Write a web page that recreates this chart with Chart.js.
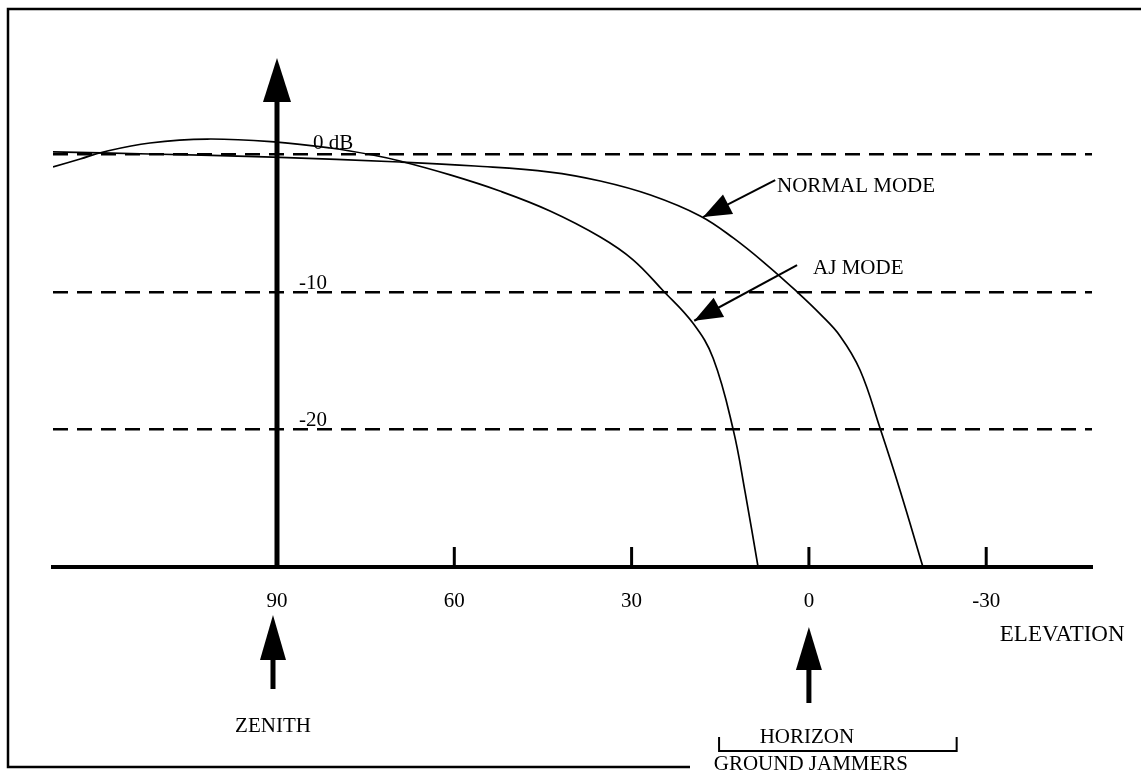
<!DOCTYPE html>
<html>
<head>
<meta charset="utf-8">
<script src="https://cdn.jsdelivr.net/npm/chart.js@4.4.0/dist/chart.umd.min.js"></script>
<style>
  html, body { margin: 0; padding: 0; background: #fff; }
  #wrap { width: 1141px; height: 777px; }
</style>
</head>
<body>
<div id="wrap"><canvas id="grafico" width="1141" height="777"></canvas></div>
<script>
// elevation ticks (degrees) and gain reference levels (dB)
const elevTicks = [90, 60, 30, 0, -30];
const dbLevels = [0, -10, -20];
const dbLabels = ['0 dB', '-10', '-20'];

// normal mode pattern
const normalElev = [127.9, 111.5, 90.7, 69.2, 56.5, 43.8, 35.3, 26.8, 18.4, 12.8, 7.1, 2.0, -1.88, -5.26, -8.65, -12.03, -15.4, -19.3];
const normalGain = [0.17, 0.02, -0.2, -0.56, -0.85, -1.29, -1.94, -2.96, -4.48, -6.08, -8.05, -10, -11.6, -13.2, -15.68, -19.9, -24.4, -30];

// AJ mode pattern
const ajElev = [127.9, 123.3, 119.4, 111.5, 101.8, 90, 81.0, 73.8, 69.2, 60.7, 52.3, 43.8, 35.3, 29.8, 24.7, 19.6, 16.2, 12.8, 10.8, 8.6];
const ajGain = [-0.92, -0.34, 0.17, 0.82, 1.11, 0.89, 0.46, -0.05, -0.49, -1.5, -2.67, -4.12, -6.01, -7.65, -9.9, -12.29, -14.83, -20.03, -24.54, -30];

const SERIF = '"Liberation Serif", "Times New Roman", serif';
const FONT = '21px ' + SERIF;

function pts(xs, ys) {
  return xs.map((x, i) => ({ x: x, y: ys[i] }));
}

function arrowHead(ctx, x1, y1, x2, y2, len, half) {
  // filled triangle pointing from (x1,y1) toward (x2,y2)
  const a = Math.atan2(y2 - y1, x2 - x1);
  const bx = x2 - len * Math.cos(a), by = y2 - len * Math.sin(a);
  ctx.beginPath();
  ctx.moveTo(x2, y2);
  ctx.lineTo(bx + half * Math.sin(a), by - half * Math.cos(a));
  ctx.lineTo(bx - half * Math.sin(a), by + half * Math.cos(a));
  ctx.closePath();
  ctx.fill();
}

function pointer(ctx, x1, y1, x2, y2) {
  ctx.lineWidth = 2;
  ctx.beginPath();
  ctx.moveTo(x1, y1);
  ctx.lineTo(x2, y2);
  ctx.stroke();
  arrowHead(ctx, x1, y1, x2, y2, 28, 11);
}

function upArrow(ctx, x, tip, headEnd, tail, halfW, shaftW) {
  ctx.fillRect(x - shaftW / 2, headEnd - 2, shaftW, tail - headEnd + 2);
  ctx.beginPath();
  ctx.moveTo(x, tip);
  ctx.lineTo(x + halfW, headEnd);
  ctx.lineTo(x - halfW, headEnd);
  ctx.closePath();
  ctx.fill();
}

const extras = {
  id: 'extras',
  afterDraw(chart) {
    const ctx = chart.ctx;
    const xs = chart.scales.x, ys = chart.scales.y;
    const area = chart.chartArea;
    const X = v => xs.getPixelForValue(v);
    const Y = v => ys.getPixelForValue(v);
    ctx.save();
    ctx.strokeStyle = '#000';
    ctx.fillStyle = '#000';

    // frame (open on the right)
    ctx.lineWidth = 2.5;
    ctx.beginPath();
    ctx.moveTo(1141, 9);
    ctx.lineTo(8, 9);
    ctx.lineTo(8, 767);
    ctx.lineTo(690, 767);
    ctx.stroke();

    // tick marks standing on the elevation axis
    ctx.lineWidth = 3;
    elevTicks.forEach(v => {
      if (v === 90) return;
      ctx.beginPath();
      ctx.moveTo(X(v), area.bottom - 20);
      ctx.lineTo(X(v), area.bottom);
      ctx.stroke();
    });

    // gain axis drawn as an arrow at zenith
    upArrow(ctx, X(90), area.top, area.top + 44, area.bottom, 14, 5);

    // dB labels
    ctx.font = FONT;
    ctx.textBaseline = 'alphabetic';
    ctx.textAlign = 'left';
    dbLevels.forEach((v, i) => {
      ctx.fillText(dbLabels[i], X(90) + (i === 0 ? 36 : 22), Y(v) - (i === 0 ? 5 : 3));
    });

    // mode pointers
    pointer(ctx, X(5.7), Y(-1.87), X(17.9), Y(-4.56));
    pointer(ctx, X(2.0), Y(-8.05), X(19.4), Y(-12.1));
    ctx.fillText('NORMAL MODE', X(5.4), Y(-2.75));
    ctx.fillText('AJ MODE', X(-0.7), Y(-8.7));

    // axis caption
    ctx.font = '23px ' + SERIF;
    ctx.fillText('ELEVATION', X(-32.3), area.bottom + 74);

    // zenith / horizon markers
    upArrow(ctx, X(90) - 4, area.bottom + 48, area.bottom + 93, area.bottom + 122, 13, 5);
    upArrow(ctx, X(0), area.bottom + 60, area.bottom + 103, area.bottom + 136, 13, 5);
    ctx.font = FONT;
    ctx.textAlign = 'center';
    ctx.fillText('ZENITH', X(90) - 4, area.bottom + 165);
    ctx.fillText('HORIZON', X(0) - 2, area.bottom + 176);
    ctx.fillText('GROUND JAMMERS', X(0) + 2, area.bottom + 203);

    // bracket under HORIZON
    ctx.lineWidth = 2;
    ctx.beginPath();
    ctx.moveTo(X(15.2), area.bottom + 170);
    ctx.lineTo(X(15.2), area.bottom + 184);
    ctx.lineTo(X(-25), area.bottom + 184);
    ctx.lineTo(X(-25), area.bottom + 170);
    ctx.stroke();
    ctx.restore();
  }
};

const lineStyle = {
  showLine: true,
  borderColor: '#000',
  borderWidth: 1.7,
  pointRadius: 0,
  tension: 0.4
};

new Chart(document.getElementById('grafico'), {
  type: 'scatter',
  data: {
    datasets: [
      Object.assign({ label: 'NORMAL MODE', data: pts(normalElev, normalGain) }, lineStyle),
      Object.assign({ label: 'AJ MODE', data: pts(ajElev, ajGain) }, lineStyle)
    ]
  },
  options: {
    responsive: false,
    animation: false,
    devicePixelRatio: 1,
    layout: { padding: { left: 53, right: 49, top: 58, bottom: 0 } },
    plugins: { legend: { display: false }, tooltip: { enabled: false } },
    scales: {
      x: {
        type: 'linear',
        reverse: true,
        min: -47.9,
        max: 127.9,
        afterBuildTicks: s => { s.ticks = elevTicks.map(v => ({ value: v })); },
        afterFit: s => { s.height = 210; },
        grid: { display: false },
        border: { display: true, color: '#000', width: 4 },
        ticks: {
          autoSkip: false,
          maxRotation: 0,
          padding: 14,
          color: '#000',
          font: { family: SERIF, size: 21 }
        }
      },
      y: {
        type: 'linear',
        min: -30,
        max: 7,
        afterBuildTicks: s => { s.ticks = dbLevels.map(v => ({ value: v })); },
        afterFit: s => { s.width = 0; },
        // dashed reference levels at 0, -10, -20 dB
        border: { display: false, dash: [15, 9] },
        ticks: { display: false },
        grid: {
          color: '#000',
          lineWidth: 2.5,
          drawTicks: false
        }
      }
    }
  },
  plugins: [extras]
});
</script>
</body>
</html>
